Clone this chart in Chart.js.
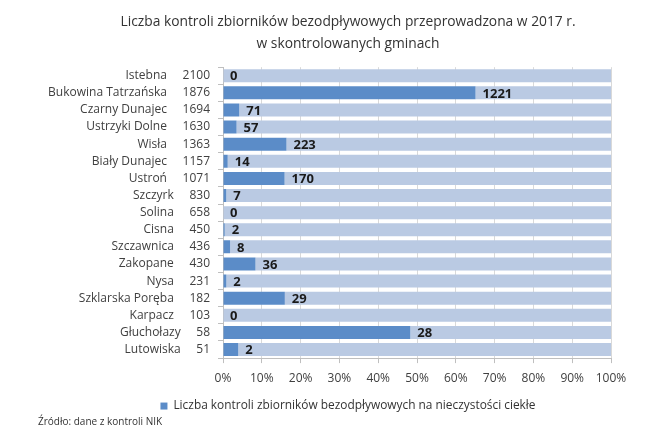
<!DOCTYPE html>
<html>
<head>
<meta charset="utf-8">
<script src="https://cdn.jsdelivr.net/npm/chart.js@4/dist/chart.umd.min.js"></script>
<style>
  html, body { margin: 0; padding: 0; background: #ffffff; }
  #wrap { position: relative; width: 670px; height: 447px; }
  #src { position: absolute; left: 38px; top: 414px; font: 10px "Open Sans", sans-serif; color: #333; }
</style>
</head>
<body>
<div id="wrap">
  <canvas id="c" width="670" height="447"></canvas>
  <div id="src">Źródło: dane z kontroli NIK</div>
</div>
<script>
const gminy = ["Istebna", "Bukowina Tatrzańska", "Czarny Dunajec", "Ustrzyki Dolne", "Wisła", "Biały Dunajec", "Ustroń", "Szczyrk", "Solina", "Cisna", "Szczawnica", "Zakopane", "Nysa", "Szklarska Poręba", "Karpacz", "Głuchołazy", "Lutowiska"];
const zbiorniki = [2100, 1876, 1694, 1630, 1363, 1157, 1071, 830, 658, 450, 436, 430, 231, 182, 103, 58, 51];
const kontrole = [0, 1221, 71, 57, 223, 14, 170, 7, 0, 2, 8, 36, 2, 29, 0, 28, 2];
const xTicks = [0, 10, 20, 30, 40, 50, 60, 70, 80, 90, 100];

const pctKontrole = kontrole.map((k, i) => k / zbiorniki[i] * 100);
const pctReszta = pctKontrole.map(p => 100 - p);

const labelPlugin = {
  id: 'valueLabels',
  afterDatasetsDraw(chart) {
    const ctx = chart.ctx;
    const meta = chart.getDatasetMeta(0);
    ctx.save();
    ctx.font = 'bold 13px "Open Sans", sans-serif';
    ctx.fillStyle = '#1a1a1a';
    ctx.textAlign = 'left';
    ctx.textBaseline = 'middle';
    meta.data.forEach((el, i) => {
      ctx.fillText(String(kontrole[i]), el.x + 7, el.y + 1);
    });
    ctx.restore();
  }
};

new Chart(document.getElementById('c'), {
  type: 'bar',
  data: {
    labels: gminy,
    datasets: [
      { label: 'Liczba kontroli zbiorników bezodpływowych na nieczystości ciekłe', data: pctKontrole, backgroundColor: '#5B8CC8', barPercentage: 0.76, categoryPercentage: 1 },
      { label: 'reszta', data: pctReszta, backgroundColor: '#BACAE3', barPercentage: 0.76, categoryPercentage: 1 }
    ]
  },
  options: {
    indexAxis: 'y',
    responsive: false,
    devicePixelRatio: 1,
    animation: false,
    layout: { padding: { left: 26, right: 0, top: 0, bottom: 25 } },
    plugins: {
      title: {
        display: true,
        text: ['Liczba kontroli zbiorników bezodpływowych przeprowadzona w 2017 r.', 'w skontrolowanych gminach'],
        font: { family: 'Open Sans', size: 13.8, weight: 'normal', lineHeight: 1.6 },
        color: '#333333',
        padding: { top: 11, bottom: 12 }
      },
      legend: {
        position: 'bottom',
        labels: {
          filter: (item) => item.datasetIndex === 0,
          boxWidth: 7, boxHeight: 7,
          font: { family: 'Open Sans', size: 11.9 },
          color: '#333333',
          padding: 10
        }
      },
      tooltip: { enabled: false }
    },
    scales: {
      x: {
        stacked: true,
        min: 0, max: 100,
        afterBuildTicks: (s) => { s.ticks = xTicks.map(v => ({ value: v })); },
        ticks: { callback: (v) => v + '%', font: { family: 'Open Sans', size: 12 }, color: '#404040', padding: 8, maxRotation: 0 },
        grid: { color: '#d9d9d9', tickLength: 5, tickColor: '#bfbfbf' },
        border: { display: true, color: '#bfbfbf' },
        afterFit: (s) => { s.height = 32; }
      },
      y: {
        stacked: true,
        ticks: {
          callback: (v, i) => gminy[i] + '     ' + zbiorniki[i],
          font: { family: 'Open Sans', size: 12 },
          color: '#404040',
          padding: 8,
          autoSkip: false
        },
        grid: { drawOnChartArea: false, tickLength: 5, color: '#bfbfbf' },
        border: { display: true, color: '#bfbfbf' },
        afterFit: (s) => { s.width = 197; }
      },
      yr: {
        type: 'linear',
        axis: 'y',
        position: 'right',
        display: true,
        ticks: { display: false },
        grid: { display: false, drawTicks: false },
        border: { display: false },
        afterFit: (s) => { s.width = 59; }
      }
    }
  },
  plugins: [labelPlugin]
});
</script>
</body>
</html>
